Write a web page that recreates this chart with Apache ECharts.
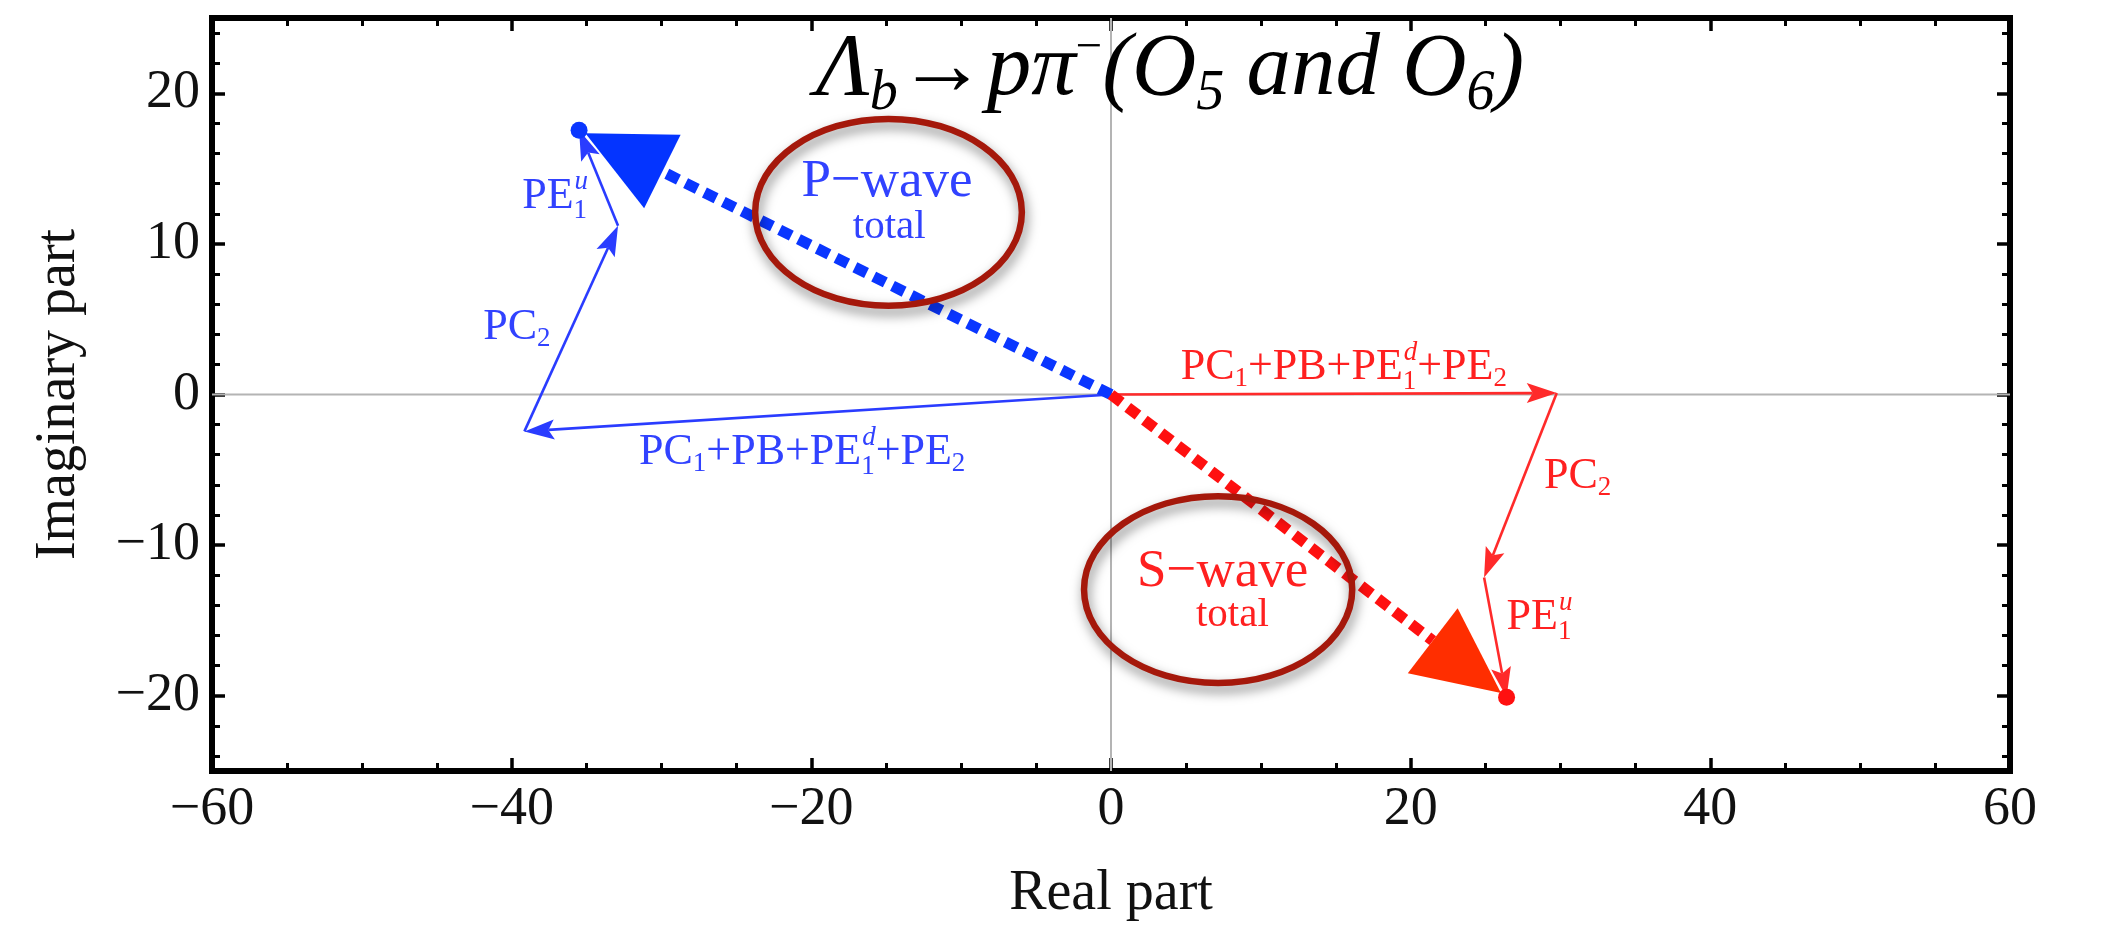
<!DOCTYPE html>
<html><head><meta charset="utf-8">
<script src="https://cdn.jsdelivr.net/npm/echarts@6/dist/echarts.min.js"></script>
<style>html,body{margin:0;padding:0;background:#fff;}#chart{width:2101px;height:926px;}</style>
</head><body><div id="chart"></div>
<script>
// ---------------- data ----------------
const xRange = [-60, 60];
const yRange = [-25, 25];
const xTickLabels = [-60, -40, -20, 0, 20, 40, 60];
const yMajorTicks = [-20, -10, 0, 10, 20];
const yMinorTicks = [-24, -22, -18, -16, -14, -12, -8, -6, -4, -2, 2, 4, 6, 8, 12, 14, 16, 18, 22, 24];
const contributionNames = ['PC1+PB+PE1d+PE2', 'PC2', 'PE1u'];
// cumulative phasor chain (real part, imaginary part), starting at the origin
const pWaveRe = [0, -39.15, -32.9, -35.5];
const pWaveIm = [0, -2.45, 11.2, 17.55];
const sWaveRe = [0, 29.75, 24.9, 26.4];
const sWaveIm = [0, 0.1, -12.15, -20.1];

// ---------------- text ----------------
const titleText = '{m|Λ}{sb|b}{m|→pπ}{sp|−}{m|(O}{sb|5}{m| and O}{sb|6}{m|)}';
const contributionRich = {
  'PC1+PB+PE1d+PE2': '{m|PC}{sb|1}{m|+PB+PE}{sbz|1}{sp|d}{m|+PE}{sb|2}',
  'PC2': '{m|PC}{sb|2}',
  'PE1u': '{m|PE}{sbz|1}{sp|u}'
};

// ---------------- layout / style ----------------
const SERIF = "'Liberation Serif', 'Times New Roman', serif";
const BLUE = { text: '#3142ff', thin: '#2a3cff', dash: '#0a36ff', head: '#0434ff' };
const RED = { text: '#ff2020', thin: '#ff2a2a', dash: '#ff1010', head: '#ff2e00' };
const ELLIPSE = '#a5180b';
const LF = 44; // label font
const labelRich = {
  m: { fontSize: LF, lineHeight: 60, fontFamily: SERIF },
  sb: { fontSize: 27, lineHeight: 10, verticalAlign: 'top', padding: [28, 0, 0, 0], fontFamily: SERIF },
  sbz: { fontSize: 27, lineHeight: 10, verticalAlign: 'top', padding: [31, 0, 0, 0], width: 1, fontFamily: SERIF },
  sp: { fontSize: 27, lineHeight: 10, verticalAlign: 'top', padding: [2, 0, 0, 0], fontStyle: 'italic', fontFamily: SERIF }
};
// annotation anchors in data units (x = left edge or centre, y = baseline)
const chainLabelPos = {
  p: [[-31.5, -4.8], [-41.9, 3.5], [-39.3, 12.15]],
  s: [[4.65, 0.8], [28.9, -6.4], [26.4, -15.8]]
};
const waveLabels = [
  { text: 'P−wave', x: -14.95, y: 12.95, size: 53, color: BLUE.text },
  { text: 'total', x: -14.8, y: 10.2, size: 41, color: BLUE.text },
  { text: 'S−wave', x: 7.45, y: -13.0, size: 53, color: RED.text },
  { text: 'total', x: 8.1, y: -15.55, size: 41, color: RED.text }
];
const ellipses = [
  { cx: -14.85, cy: 12.1, rx: 8.9, ry: 6.2 },
  { cx: 7.15, cy: -12.95, rx: 8.95, ry: 6.2 }
];

function segments(re, im) {
  const out = [];
  for (let i = 1; i < re.length; i++) out.push([re[i - 1], im[i - 1], re[i], im[i], i - 1]);
  return out;
}
function unit(p0, p1) {
  const dx = p1[0] - p0[0], dy = p1[1] - p0[1];
  const d = Math.hypot(dx, dy) || 1;
  return [dx / d, dy / d];
}

function chainSeries(name, re, im, col, key) {
  return {
    type: 'custom', name: name, coordinateSystem: 'cartesian2d', z: 3,
    encode: { x: [0, 2], y: [1, 3] },
    data: segments(re, im),
    renderItem: function (params, api) {
      const p0 = api.coord([api.value(0), api.value(1)]);
      const p1 = api.coord([api.value(2), api.value(3)]);
      const u = unit(p0, p1), n = [-u[1], u[0]];
      const len = 30, hw = 10, notch = 6;
      const b = [p1[0] - u[0] * len, p1[1] - u[1] * len];
      const neck = [p1[0] - u[0] * (len - notch), p1[1] - u[1] * (len - notch)];
      const idx = api.value(4);
      const lp = api.coord(chainLabelPos[key][idx]);
      return {
        type: 'group', children: [
          { type: 'line', shape: { x1: p0[0], y1: p0[1], x2: neck[0], y2: neck[1] }, style: { stroke: col.thin, lineWidth: 2.6 } },
          { type: 'polygon', shape: { points: [p1, [b[0] + n[0] * hw, b[1] + n[1] * hw], neck, [b[0] - n[0] * hw, b[1] - n[1] * hw]] }, style: { fill: col.thin } },
          { type: 'text', x: lp[0], y: lp[1] - 0.3375 * LF, z2: 10,
            style: { text: contributionRich[contributionNames[idx]], rich: labelRich, fill: col.text, align: 'left', verticalAlign: 'middle', fontFamily: SERIF, fontSize: LF } }
        ]
      };
    }
  };
}

function totalSeries(name, re, im, col) {
  const last = re.length - 1;
  return {
    type: 'custom', name: name, coordinateSystem: 'cartesian2d', z: 4,
    encode: { x: [0, 2], y: [1, 3] },
    data: [[re[0], im[0], re[last], im[last]]],
    renderItem: function (params, api) {
      const p0 = api.coord([api.value(0), api.value(1)]);
      const p1 = api.coord([api.value(2), api.value(3)]);
      const u = unit(p0, p1), n = [-u[1], u[0]];
      const tip = [p1[0] - u[0] * 7, p1[1] - u[1] * 7];
      const len = 86, hw = 41;
      const base = [tip[0] - u[0] * len, tip[1] - u[1] * len];
      return {
        type: 'group', children: [
          { type: 'line', shape: { x1: p0[0], y1: p0[1], x2: base[0], y2: base[1] }, style: { stroke: col.dash, lineWidth: 11, lineDash: [13, 8] } },
          { type: 'polygon', shape: { points: [tip, [base[0] + n[0] * hw, base[1] + n[1] * hw], [base[0] - n[0] * hw, base[1] - n[1] * hw]] }, style: { fill: col.head } },
          { type: 'circle', shape: { cx: p1[0], cy: p1[1], r: 8.5 }, style: { fill: col.dash } }
        ]
      };
    }
  };
}

const zeroLineSeries = {
  type: 'custom', name: 'axes', coordinateSystem: 'cartesian2d', z: 1, silent: true,
  data: [[0, 0]],
  renderItem: function (params, api) {
    const a = api.coord([xRange[0], 0]), b = api.coord([xRange[1], 0]);
    const c = api.coord([0, yRange[0]]), d = api.coord([0, yRange[1]]);
    return { type: 'group', children: [
      { type: 'line', shape: { x1: a[0], y1: a[1], x2: b[0], y2: b[1] }, style: { stroke: '#b4b4b4', lineWidth: 2 } },
      { type: 'line', shape: { x1: c[0], y1: c[1], x2: d[0], y2: d[1] }, style: { stroke: '#b4b4b4', lineWidth: 2 } }
    ] };
  }
};

const annotationSeries = {
  type: 'custom', name: 'annotations', coordinateSystem: 'cartesian2d', z: 6, silent: true,
  data: ellipses.map(e => [e.cx, e.cy]).concat(waveLabels.map(w => [w.x, w.y])),
  renderItem: function (params, api) {
    const i = params.dataIndex;
    if (i < ellipses.length) {
      const e = ellipses[i];
      const c = api.coord([e.cx, e.cy]);
      const s = api.size([e.rx, e.ry]);
      return { type: 'ellipse', shape: { cx: c[0], cy: c[1], rx: s[0], ry: s[1] },
        style: { fill: null, stroke: ELLIPSE, lineWidth: 6.5, shadowBlur: 12, shadowColor: 'rgba(0,0,0,0.5)', shadowOffsetX: 2, shadowOffsetY: 6 } };
    }
    const w = waveLabels[i - ellipses.length];
    const p = api.coord([w.x, w.y]);
    return { type: 'text', x: p[0], y: p[1] - 0.3375 * w.size,
      style: { text: w.text, fill: w.color, fontSize: w.size, fontFamily: SERIF, align: 'center', verticalAlign: 'middle' } };
  }
};

const tickStyle = { inside: true, length: 13, lineStyle: { color: '#000', width: 3.5 } };
const minorStyle = { show: true, splitNumber: 4, length: 8, lineStyle: { color: '#000', width: 3 } };
const frameLine = { show: true, onZero: false, lineStyle: { color: '#000', width: 6, cap: 'square' } };
const hiddenLine = { show: false, onZero: false };
const labelFont = { fontSize: 54, fontFamily: SERIF, color: '#111' };
const titleTok = { fontStyle: 'italic', fontWeight: 'normal', fontFamily: SERIF, color: '#000' };

const option = {
  animation: false,
  backgroundColor: '#fff',
  title: {
    text: titleText, left: 816, top: 15, padding: 0,
    textStyle: {
      fontSize: 89, fontStyle: 'italic', fontWeight: 'normal', fontFamily: SERIF, color: '#000',
      rich: {
        m: Object.assign({ fontSize: 89, lineHeight: 112 }, titleTok),
        sb: Object.assign({ fontSize: 56, lineHeight: 10, verticalAlign: 'top', padding: [51, 0, 0, 0] }, titleTok),
        sp: Object.assign({ fontSize: 47, lineHeight: 10, verticalAlign: 'top', padding: [10, 0, 0, 0] }, titleTok, { fontStyle: 'normal' })
      }
    }
  },
  grid: { left: 212, top: 18, width: 1798, height: 753, containLabel: false, outerBoundsMode: 'none' },
  xAxis: [
    { type: 'value', position: 'bottom', min: xRange[0], max: xRange[1], interval: 20,
      axisLine: frameLine, axisTick: tickStyle, minorTick: minorStyle, splitLine: { show: false },
      axisLabel: Object.assign({ margin: 12, formatter: v => (v < 0 ? '−' + Math.abs(v) : String(v)), customValues: xTickLabels }, labelFont),
      name: 'Real part', nameLocation: 'middle', nameGap: 95,
      nameTextStyle: { fontSize: 56, fontFamily: SERIF, color: '#111' } },
    { type: 'value', position: 'top', min: xRange[0], max: xRange[1], interval: 20,
      axisLine: frameLine, axisTick: tickStyle, minorTick: minorStyle, splitLine: { show: false },
      axisLabel: { show: false } }
  ],
  yAxis: [
    { type: 'value', position: 'left', min: yRange[0], max: yRange[1],
      axisLine: frameLine, axisTick: Object.assign({ customValues: yMajorTicks }, tickStyle), splitLine: { show: false },
      axisLabel: Object.assign({ margin: 12, customValues: yMajorTicks, formatter: v => (v < 0 ? '−' + Math.abs(v) : String(v)) }, labelFont),
      name: 'Imaginary part', nameLocation: 'middle', nameGap: 125, nameRotate: 90,
      nameTextStyle: { fontSize: 56, fontFamily: SERIF, color: '#111' } },
    { type: 'value', position: 'left', min: yRange[0], max: yRange[1],
      axisLine: hiddenLine, axisTick: { inside: true, length: 8, customValues: yMinorTicks, lineStyle: { color: '#000', width: 3 } },
      splitLine: { show: false }, axisLabel: { show: false } },
    { type: 'value', position: 'right', min: yRange[0], max: yRange[1],
      axisLine: frameLine, axisTick: Object.assign({ customValues: yMajorTicks }, tickStyle), splitLine: { show: false },
      axisLabel: { show: false } },
    { type: 'value', position: 'right', min: yRange[0], max: yRange[1],
      axisLine: hiddenLine, axisTick: { inside: true, length: 8, customValues: yMinorTicks, lineStyle: { color: '#000', width: 3 } },
      splitLine: { show: false }, axisLabel: { show: false } }
  ],
  series: [
    zeroLineSeries,
    chainSeries('P-wave contributions', pWaveRe, pWaveIm, BLUE, 'p'),
    chainSeries('S-wave contributions', sWaveRe, sWaveIm, RED, 's'),
    totalSeries('P-wave total', pWaveRe, pWaveIm, BLUE),
    totalSeries('S-wave total', sWaveRe, sWaveIm, RED),
    annotationSeries
  ]
};

const chart = echarts.init(document.getElementById('chart'), null, { renderer: 'canvas' });
chart.setOption(option);
</script>
</body></html>
